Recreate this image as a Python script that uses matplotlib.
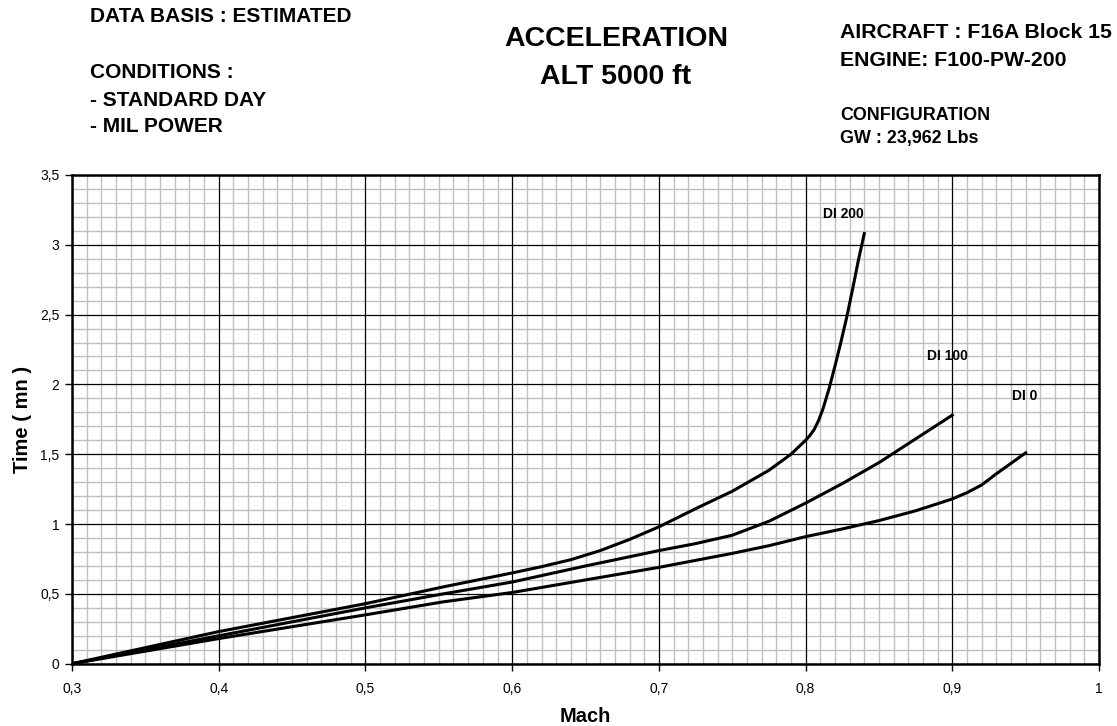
import matplotlib
matplotlib.use('Agg')
import matplotlib.pyplot as plt
from matplotlib.ticker import MultipleLocator, FuncFormatter

plt.rcParams['font.family'] = ['Liberation Sans', 'DejaVu Sans']

# acceleration time from Mach 0.3, per drag index
mach_di0 = [0.3, 0.4, 0.5, 0.553, 0.6, 0.65, 0.7, 0.75, 0.775, 0.8, 0.825,
            0.85, 0.875, 0.9, 0.91, 0.92, 0.93, 0.94, 0.95]
time_di0 = [0.0, 0.18, 0.35, 0.443, 0.51, 0.60, 0.69, 0.79, 0.845, 0.91,
            0.965, 1.025, 1.095, 1.18, 1.225, 1.28, 1.36, 1.435, 1.51]

mach_di100 = [0.3, 0.4, 0.5, 0.553, 0.6, 0.65, 0.7, 0.725, 0.75, 0.775,
              0.8, 0.825, 0.85, 0.875, 0.9]
time_di100 = [0.0, 0.2, 0.40, 0.50, 0.585, 0.70, 0.81, 0.86, 0.92, 1.02,
              1.15, 1.29, 1.44, 1.61, 1.78]

mach_di200 = [0.3, 0.4, 0.5, 0.553, 0.6, 0.62, 0.64, 0.66, 0.68, 0.7,
              0.725, 0.75, 0.775, 0.79, 0.8, 0.803, 0.806, 0.809, 0.812,
              0.816, 0.82, 0.824, 0.828, 0.832, 0.836, 0.84]
time_di200 = [0.0, 0.23, 0.43, 0.55, 0.65, 0.695, 0.745, 0.81, 0.89, 0.98,
              1.11, 1.235, 1.385, 1.50, 1.60, 1.635, 1.68, 1.745, 1.83,
              1.97, 2.13, 2.30, 2.48, 2.68, 2.89, 3.08]

curves = [
    ('DI 0', mach_di0, time_di0, (0.949, 1.92)),
    ('DI 100', mach_di100, time_di100, (0.897, 2.20)),
    ('DI 200', mach_di200, time_di200, (0.8255, 3.22)),
]

fig = plt.figure(figsize=(11.17, 7.26), dpi=100)
ax = fig.add_axes([0.0645, 0.0858, 0.9194, 0.6732])

ax.set_xlim(0.3, 1.0)
ax.set_ylim(0, 3.5)
ax.xaxis.set_major_locator(MultipleLocator(0.1))
ax.xaxis.set_minor_locator(MultipleLocator(0.01))
ax.yaxis.set_major_locator(MultipleLocator(0.5))
ax.yaxis.set_minor_locator(MultipleLocator(0.1))

# light minor grid, then black major lines on top of it
ax.grid(which='minor', color='#c0c0c0', lw=1.0)
ax.set_axisbelow(True)
for v in ax.get_xticks():
    ax.axvline(v, color='black', lw=0.9, zorder=1)
for v in ax.get_yticks():
    ax.axhline(v, color='black', lw=0.9, zorder=1)

for name, m, t, pos in curves:
    ax.plot(m, t, color='black', lw=2.2, zorder=3)
    ax.text(pos[0], pos[1], name, fontsize=10, fontweight='bold',
            ha='center', va='center')

comma = FuncFormatter(lambda v, p: ('%g' % round(v, 2)).replace('.', ','))
ax.xaxis.set_major_formatter(comma)
ax.yaxis.set_major_formatter(comma)

for s in ax.spines.values():
    s.set_linewidth(1.8)
    s.set_zorder(4)

ax.tick_params(which='major', length=5, width=1, labelsize=10)
ax.tick_params(axis='x', pad=8)
ax.tick_params(axis='y', pad=4)
ax.tick_params(which='minor', length=0)

ax.set_xlabel('Mach', fontsize=14.5, fontweight='bold', labelpad=8)
ax.set_ylabel('Time ( mn )', fontsize=14.5, fontweight='bold', labelpad=6)

# header block
fig.text(90 / 1117, 1 - 17 / 726, 'DATA BASIS : ESTIMATED', fontsize=15,
         fontweight='bold', va='center')
fig.text(90 / 1117, 1 - 72 / 726, 'CONDITIONS :', fontsize=15,
         fontweight='bold', va='center')
fig.text(90 / 1117, 1 - 100 / 726, '- STANDARD DAY', fontsize=15,
         fontweight='bold', va='center')
fig.text(90 / 1117, 1 - 126 / 726, '- MIL POWER', fontsize=15,
         fontweight='bold', va='center')

fig.text(616 / 1117, 1 - 39 / 726, 'ACCELERATION', fontsize=20.5,
         fontweight='bold', ha='center', va='center')
fig.text(616 / 1117, 1 - 77 / 726, 'ALT 5000 ft', fontsize=20.5,
         fontweight='bold', ha='center', va='center')

fig.text(840 / 1117, 1 - 32.5 / 726, 'AIRCRAFT : F16A Block 15', fontsize=15.3,
         fontweight='bold', va='center')
fig.text(840 / 1117, 1 - 60.5 / 726, 'ENGINE: F100-PW-200', fontsize=15.3,
         fontweight='bold', va='center')
fig.text(840 / 1117, 1 - 115 / 726, 'CONFIGURATION', fontsize=12.9,
         fontweight='bold', va='center')
fig.text(840 / 1117, 1 - 138 / 726, 'GW : 23,962 Lbs', fontsize=12.9,
         fontweight='bold', va='center')

fig.savefig('out.png', dpi=100)
